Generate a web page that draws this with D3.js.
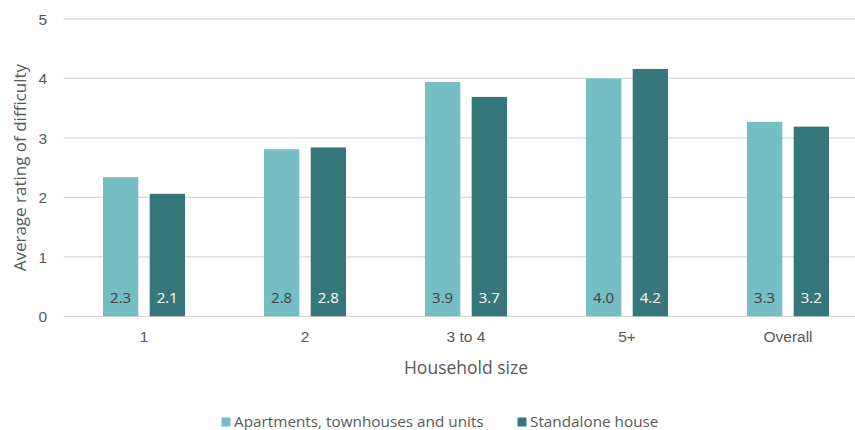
<!DOCTYPE html>
<html>
<head>
<meta charset="utf-8">
<script src="https://cdn.jsdelivr.net/npm/d3@7"></script>
<style>
  html, body { margin: 0; padding: 0; background: #fff; }
  svg { display: block; font-family: "Open Sans", "Noto Sans", sans-serif; }
</style>
</head>
<body>
<svg id="chart" width="855" height="430"></svg>
<script>
// Household size categories and average difficulty ratings per dwelling type
const categories = ["1", "2", "3 to 4", "5+", "Overall"];
const seriesNames = ["Apartments, townhouses and units", "Standalone house"];
const apartmentValues = [2.34, 2.81, 3.94, 4.00, 3.27];
const houseValues = [2.06, 2.84, 3.69, 4.16, 3.19];
const yTicks = [0, 1, 2, 3, 4, 5];

const colors = ["#74BEC4", "#35777B"];
const labelColors = ["#404040", "#ffffff"];
const seriesValues = [apartmentValues, houseValues];

const data = categories.map((c, i) => ({
  category: c,
  values: seriesNames.map((s, j) => ({ series: j, value: seriesValues[j][i] }))
}));

const svg = d3.select("#chart");
const W = 855, H = 430;
const plot = { left: 63.5, right: 868.5, top: 19, bottom: 316.3 };

const x = d3.scaleBand().domain(categories).range([plot.left, plot.right]).padding(0);
const groupWidth = 82;
const xInner = d3.scaleBand().domain(d3.range(seriesNames.length))
  .range([0, groupWidth]).paddingInner(10 / 41).paddingOuter(0);
const y = d3.scaleLinear().domain([0, 5]).range([plot.bottom, plot.top]);

// Horizontal gridlines
svg.append("g")
  .selectAll("line")
  .data(yTicks)
  .join("line")
  .attr("x1", plot.left)
  .attr("x2", W)
  .attr("y1", d => y(d))
  .attr("y2", d => y(d))
  .attr("stroke", "#d9d9d9")
  .attr("stroke-width", 1.3);

// Y axis tick labels
const yAxis = d3.axisLeft(y).tickValues(yTicks).tickSize(0).tickPadding(0).tickFormat(d3.format("d"));
const yAxisG = svg.append("g").attr("transform", `translate(47,0)`).call(yAxis);
yAxisG.select(".domain").remove();
yAxisG.selectAll("text")
  .attr("fill", "#595959")
  .style("font-size", "15.5px")
  .attr("dy", "0.35em");

// X axis category labels
const xAxis = d3.axisBottom(x).tickSize(0).tickPadding(0);
const xAxisG = svg.append("g").attr("transform", `translate(0,${plot.bottom + 14.5})`).call(xAxis);
xAxisG.select(".domain").remove();
xAxisG.selectAll("text")
  .attr("fill", "#595959")
  .style("font-size", "15.5px")
  .attr("dy", "0.71em");

// Bars
const groups = svg.append("g")
  .selectAll("g")
  .data(data)
  .join("g")
  .attr("transform", d => `translate(${x(d.category) + (x.bandwidth() - groupWidth) / 2},0)`);

groups.selectAll("rect")
  .data(d => d.values)
  .join("rect")
  .attr("x", d => xInner(d.series))
  .attr("width", xInner.bandwidth())
  .attr("y", d => y(d.value))
  .attr("height", d => y(0) - y(d.value))
  .attr("fill", d => colors[d.series]);

// Value labels inside the base of each bar
groups.selectAll("text")
  .data(d => d.values)
  .join("text")
  .attr("x", d => xInner(d.series) + xInner.bandwidth() / 2)
  .attr("y", y(0) - 18.5)
  .attr("dy", "0.35em")
  .attr("text-anchor", "middle")
  .attr("fill", d => labelColors[d.series])
  .style("font-size", "15px")
  .text(d => d3.format(".1f")(d.value));

// Axis titles
svg.append("text")
  .attr("transform", `translate(20,${(plot.top + plot.bottom) / 2}) rotate(-90)`)
  .attr("text-anchor", "middle")
  .attr("dy", "0.35em")
  .attr("fill", "#595959")
  .style("font-size", "17px")
  .text("Average rating of difficulty");

svg.append("text")
  .attr("x", 466)
  .attr("y", 368)
  .attr("text-anchor", "middle")
  .attr("dy", "0.35em")
  .attr("fill", "#595959")
  .style("font-size", "17.5px")
  .text("Household size");

// Legend
const legendItems = [
  { name: seriesNames[0], color: colors[0], x: 221.5 },
  { name: seriesNames[1], color: colors[1], x: 517.5 }
];
const legend = svg.append("g")
  .selectAll("g")
  .data(legendItems)
  .join("g")
  .attr("transform", d => `translate(${d.x},0)`);
legend.append("rect")
  .attr("x", 0).attr("y", 417.5)
  .attr("width", 9).attr("height", 9)
  .attr("fill", d => d.color);
legend.append("text")
  .attr("x", 12.5).attr("y", 422)
  .attr("dy", "0.35em")
  .attr("fill", "#595959")
  .style("font-size", "15.3px")
  .text(d => d.name);
</script>
</body>
</html>
